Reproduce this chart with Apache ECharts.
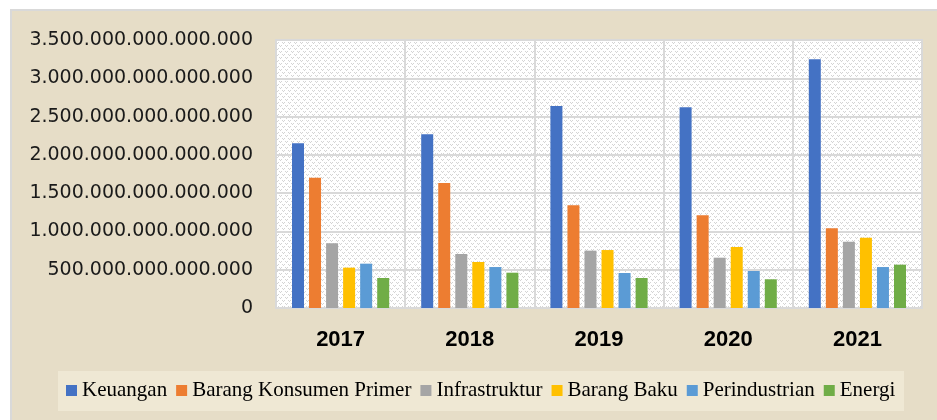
<!DOCTYPE html>
<html>
<head>
<meta charset="utf-8">
<script src="https://cdn.jsdelivr.net/npm/echarts@6/dist/echarts.min.js"></script>
<style>
  html, body { margin: 0; padding: 0; background: #fff; }
  #chart { width: 937px; height: 420px; }
</style>
</head>
<body>
<div id="chart"></div>
<script>
var years = ['2017', '2018', '2019', '2020', '2021'];
var seriesNames = ['Keuangan', 'Barang Konsumen Primer', 'Infrastruktur', 'Barang Baku', 'Perindustrian', 'Energi'];
var keuangan      = [2151000000000000, 2268000000000000, 2638000000000000, 2621000000000000, 3248000000000000];
var konsumen      = [1702000000000000, 1633000000000000, 1341000000000000, 1210000000000000, 1041000000000000];
var infrastruktur = [845000000000000, 705000000000000, 749000000000000, 657000000000000, 866000000000000];
var barangBaku    = [527000000000000, 601000000000000, 757000000000000, 797000000000000, 918000000000000];
var perindustrian = [579000000000000, 535000000000000, 457000000000000, 483000000000000, 535000000000000];
var energi        = [392000000000000, 461000000000000, 392000000000000, 375000000000000, 566000000000000];
var colors = ['#4472C4', '#ED7D31', '#A5A5A5', '#FFC000', '#5B9BD5', '#70AD47'];

var allValues = [keuangan, konsumen, infrastruktur, barangBaku, perindustrian, energi];

// dotted fill of the plot area
var tile = document.createElement('canvas');
tile.width = 6; tile.height = 6;
var tctx = tile.getContext('2d');
tctx.fillStyle = '#ffffff';
tctx.fillRect(0, 0, 6, 6);
tctx.fillStyle = '#d4d4d4';
tctx.fillRect(0, 0, 1, 1);
tctx.fillRect(1, 1, 1, 1);
tctx.fillRect(2, 0, 1, 1);
tctx.fillRect(3, 3, 1, 1);
tctx.fillRect(4, 4, 1, 1);
tctx.fillRect(5, 3, 1, 1);

function dotted(v) {
    return String(Math.round(v)).replace(/\B(?=(\d{3})+(?!\d))/g, '.');
}

var chart = echarts.init(document.getElementById('chart'));

var option = {
    backgroundColor: '#ffffff',
    animation: false,
    color: colors,
    graphic: [
        {
            type: 'rect', z: -10,
            shape: { x: 11, y: 10, width: 930, height: 415 },
            style: { fill: '#e6ddc7', stroke: '#d9d9d9', lineWidth: 2 }
        },
        {
            type: 'rect', z: -9,
            shape: { x: 58, y: 371, width: 846, height: 40 },
            style: { fill: '#efe8d4' }
        }
    ],
    grid: {
        left: 276, right: 15, top: 40, bottom: 112,
        show: true,
        backgroundColor: { image: tile, repeat: 'repeat' },
        borderColor: '#d9d9d9',
        borderWidth: 2
    },
    legend: {
        left: 66, top: 380,
        padding: 0,
        icon: 'rect',
        itemWidth: 11, itemHeight: 11, itemGap: 9,
        textStyle: { fontFamily: 'Liberation Serif', fontSize: 21, color: '#000' },
        data: seriesNames
    },
    xAxis: {
        type: 'category',
        data: years,
        axisLine: { lineStyle: { color: '#d9d9d9', width: 2 } },
        axisTick: { show: false },
        splitLine: { show: true, interval: 0, lineStyle: { color: '#d9d9d9', width: 2 } },
        axisLabel: {
            margin: 21,
            fontFamily: 'Liberation Sans', fontWeight: 'bold', fontSize: 22, color: '#000'
        }
    },
    yAxis: {
        type: 'value',
        min: 0, max: 3500000000000000, interval: 500000000000000,
        axisLine: { show: false },
        axisTick: { show: false },
        splitLine: { lineStyle: { color: '#d9d9d9', width: 2 } },
        axisLabel: {
            margin: 23,
            fontFamily: 'DejaVu Sans', fontSize: 19, color: '#1a1a1a',
            formatter: dotted
        }
    },
    series: seriesNames.map(function (name, i) {
        return {
            name: name,
            type: 'bar',
            barWidth: 12,
            barGap: '42%',
            data: allValues[i]
        };
    })
};

chart.setOption(option);
</script>
</body>
</html>
